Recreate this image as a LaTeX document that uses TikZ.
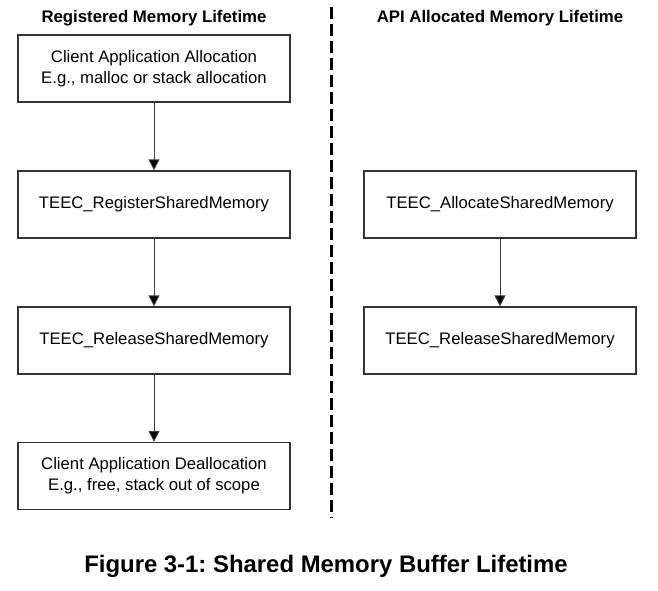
\documentclass[tikz,border=0pt]{standalone}
\usepackage{fontspec}
\setmainfont{Liberation Sans}
\usetikzlibrary{arrows.meta}
\frenchspacing
\begin{document}
\begin{tikzpicture}[x=1pt,y=-1pt,
  box/.style={draw=black!80, line width=1.3pt, minimum width=272pt, minimum height=67pt, align=center, inner sep=0pt, font=\fontsize{16.7}{21}\selectfont},
  title/.style={font=\bfseries\fontsize{16.8}{19}\selectfont},
  arr/.style={draw=black!75, line width=0.9pt, -{Triangle[length=11pt,width=11pt,fill=black]}}]
\useasboundingbox (0,0) rectangle (658,591);
\node[title] (t1) at (154,18) {Registered Memory Lifetime};
\node[title] (t2) at (500,18) {API Allocated Memory Lifetime};
\node[box] (a1) at (154,68.5) {Client Application Allocation\\E.g., malloc or stack allocation};
\node[box] (a2) at (154,204.5) {TEEC\_RegisterSharedMemory};
\node[box] (a3) at (154,340.5) {TEEC\_ReleaseSharedMemory};
\node[box] (a4) at (154,476) {Client Application Deallocation\\E.g., free, stack out of scope};
\node[box] (b1) at (500,204.5) {TEEC\_AllocateSharedMemory};
\node[box] (b2) at (500,340.5) {TEEC\_ReleaseSharedMemory};
\draw[arr] (a1) -- (a2);
\draw[arr] (a2) -- (a3);
\draw[arr] (a3) -- (a4);
\draw[arr] (b1) -- (b2);
\coordinate (d1) at (331,7);
\coordinate (d2) at (331,518);
\draw[line width=3pt, dash pattern=on 12pt off 5pt] (d1) -- (d2);
\node[font=\bfseries\fontsize{23.9}{28}\selectfont] (cap) at (326,566) {Figure 3-1: Shared Memory Buffer Lifetime};
\end{tikzpicture}
\end{document}
